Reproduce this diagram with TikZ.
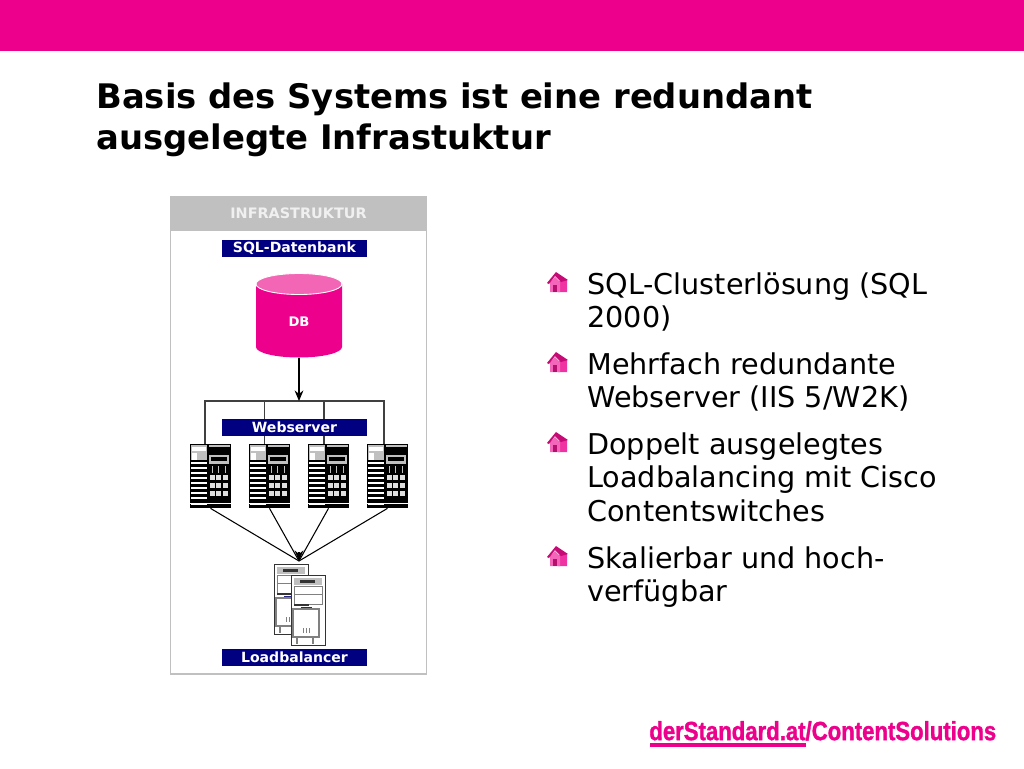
\documentclass[tikz,border=0pt]{standalone}
\usepackage{fontspec}
\setmainfont{DejaVu Sans}
\newfontfamily\logofont[FakeStretch=0.84,FakeBold=1.2]{Liberation Sans}
\usetikzlibrary{arrows,arrows.meta}
\definecolor{hotpink}{HTML}{EC008C}
\definecolor{palepink}{HTML}{F266B5}
\definecolor{darkpink}{HTML}{B5106E}
\definecolor{labelnavy}{HTML}{000080}
\definecolor{panelgrey}{HTML}{C0C0C0}
\newcommand{\webbox}[3]{
	\node [serverbox] (#1) at (#2+20.5,476) {};
	\fill [panelgrey] (#2+1,445) rectangle (#2+17,460);
	\fill [white] (#2+2,447) rectangle (#2+16,451);
	\fill [white] (#2+2,453) rectangle (#2+7,460);
	\foreach \row in {462,467,472,477,482,487,492,497,503}
		\fill [white] (#2+1,\row) rectangle (#2+17,\row+2);
	\fill [panelgrey] (#2+19,445) rectangle (#2+40,447);
	\fill [panelgrey] (#2+19,455) rectangle (#2+39,464);
	\fill [black] (#2+21,457) rectangle (#2+37,461);
	\foreach \col in {20,26,33} {
		\fill [panelgrey] (#2+\col+2,466) rectangle (#2+\col+3,473);
		\foreach \row in {475,483,491}
			\fill [panelgrey!50!white] (#2+\col,\row) rectangle (#2+\col+5,\row+5);
	}
	\fill [white] (#2,503) rectangle (#2+41,504);
	\coordinate (#1in) at (#3,444);
}
\newcommand{\lbbox}[3]{
	\node [lbtower] (#1) at (#2+17,#3+35) {};
	\fill [gray!50] (#2+3,#3+3) rectangle (#2+31,#3+10);
	\fill [black!80] (#2+9,#3+5) rectangle (#2+24,#3+8);
	\draw [gray] (#2+3,#3+11) rectangle (#2+31,#3+19);
	\draw [gray] (#2+3,#3+19) rectangle (#2+31,#3+29);
	\fill [black!80] (#2+3,#3+29) rectangle (#2+18,#3+31);
	\fill [labelnavy!70!gray] (#2+10,#3+32) rectangle (#2+21,#3+34);
	\draw [gray,thick] (#2+2,#3+34) rectangle (#2+28,#3+62);
	\draw [gray,thick] (#2+6,#3+62) -- (#2+6,#3+69) (#2+22,#3+62) -- (#2+22,#3+69);
	\draw [gray] (#2+12,#3+58) -- (#2+12,#3+53) (#2+15,#3+58) -- (#2+15,#3+53) (#2+18,#3+58) -- (#2+18,#3+53);
}
\newcommand{\bul}[1]{
	\fill [hotpink!80!white] (558,#1-2) -- (567,#1-3) -- (567,#1+9) -- (558,#1+9) -- cycle;
	\fill [hotpink!60!white] (550,#1-1) -- (555,#1-6) -- (560,#1-1) -- (560,#1+9) -- (550,#1+9) -- cycle;
	\fill [darkpink] (553,#1+2) rectangle (557,#1+9);
	\fill [darkpink!70!hotpink] (547,#1) -- (556,#1-11) -- (568,#1-3) -- (561,#1-1) -- (555,#1-7) -- (549,#1+1) -- cycle;
}

\begin{document}
\begin{tikzpicture}[
      x=0.02cm,y=-0.02cm,
      wire/.style={line width=0.6pt,black!75},
      arrowwire/.style={line width=0.6pt,-{Stealth[length=6pt,width=5pt]}},
      tag/.style={fill=labelnavy,text=white,font=\bfseries\fontsize{8}{9}\selectfont,minimum width=2.9cm,minimum height=0.34cm,inner sep=0pt},
      bodytext/.style={anchor=north west,inner sep=0pt,align=left,font=\fontsize{16.3}{19.28}\selectfont},
      serverbox/.style={fill=black,minimum width=0.82cm,minimum height=1.28cm,inner sep=0pt},
      lbtower/.style={draw=black!80,fill=white,line width=0.4pt,minimum width=0.68cm,minimum height=1.4cm,inner sep=0pt}
    ]
    \useasboundingbox (0,0) rectangle (1024,768);
    \fill [white] (0,0) rectangle (1024,768);
    % Draw the top bar and the title
    \fill [hotpink] (0,0) rectangle (1024,51);
    \node [anchor=north west,inner sep=0pt,align=left,font=\bfseries\fontsize{19.25}{23.8}\selectfont] (title) at (96,82) {Basis des Systems ist eine redundant\\ausgelegte Infrastuktur};
    % Draw the panel
    \draw [panelgrey,fill=white,line width=0.6pt] (170.5,196.5) rectangle (426.5,674);
    \node [fill=panelgrey,text=white!88!gray,font=\bfseries\fontsize{8.2}{9}\selectfont,minimum width=5.12cm,minimum height=0.7cm,inner sep=0pt] (head) at (298.5,213.5) {INFRASTRUKTUR};
    % Draw the data base
    \fill [hotpink] (256,284) -- (256,347) arc [start angle=180,end angle=0,x radius=43,y radius=10.5] -- (342,284) -- cycle;
    \draw [white,fill=palepink,line width=0.5pt] (299,284) ellipse [x radius=43,y radius=10.5];
    \node [text=white,font=\bfseries\fontsize{7.5}{8}\selectfont,inner sep=0pt] (db) at (299,322) {DB};
    \coordinate (dbout) at (299,358);
    % Draw the web servers
    \webbox{webA}{190}{205};
    \webbox{webB}{249}{264.5};
    \webbox{webC}{308}{324};
    \webbox{webD}{367}{384};
    \coordinate (busA) at (webAin |- 0,401);
    \coordinate (busB) at (webBin |- 0,401);
    \coordinate (busC) at (webCin |- 0,401);
    \coordinate (busD) at (webDin |- 0,401);
    \coordinate (busM) at (299,401);
    \draw [wire] (webAin) -- (busA) -- (busD) -- (webDin);
    \draw [wire] (busB) -- (webBin);
    \draw [wire] (busC) -- (webCin);
    \draw [arrowwire] (dbout) -- (busM);
    % Draw the load balancers
    \lbbox{lbA}{274}{564};
    \lbbox{lbB}{291}{575};
    \coordinate (lbin) at (299,561);
    \coordinate (lbtip) at (299,552);
    \draw [wire,black] (webA.south) -- (lbin);
    \draw [wire,black] (webB.south) -- (lbin);
    \draw [wire,black] (webC.south) -- (lbin);
    \draw [wire,black] (webD.south) -- (lbin);
    \draw [arrowwire] (lbtip) -- (lbin);
    % Draw the labels
    \node [tag] (tagdb) at (294.5,248) {SQL-Datenbank};
    \node [tag] (tagweb) at (294.5,427) {Webserver};
    \node [tag] (taglb) at (294.5,657.5) {Loadbalancer};
    % Draw the list
    \bul{283};
    \bul{363};
    \bul{443};
    \bul{557};
    \node [bodytext] (itemA) at (587,272) {SQL-Clusterlösung (SQL\\2000)};
    \node [bodytext] (itemB) at (587,352) {Mehrfach redundante\\Webserver (IIS 5/W2K)};
    \node [bodytext] (itemC) at (587,432) {Doppelt ausgelegtes\\Loadbalancing mit Cisco\\Contentswitches};
    \node [bodytext] (itemD) at (587,546) {Skalierbar und hoch-\\verfügbar};
    % Draw the logo
    \node [anchor=south west,inner sep=0pt,text=hotpink,font=\logofont\bfseries\fontsize{15}{18}\selectfont] (logo) at (649,741) {derStandard.at/ContentSolutions};
    \fill [hotpink] (650,743) rectangle (806,747);
\end{tikzpicture}
\end{document}
